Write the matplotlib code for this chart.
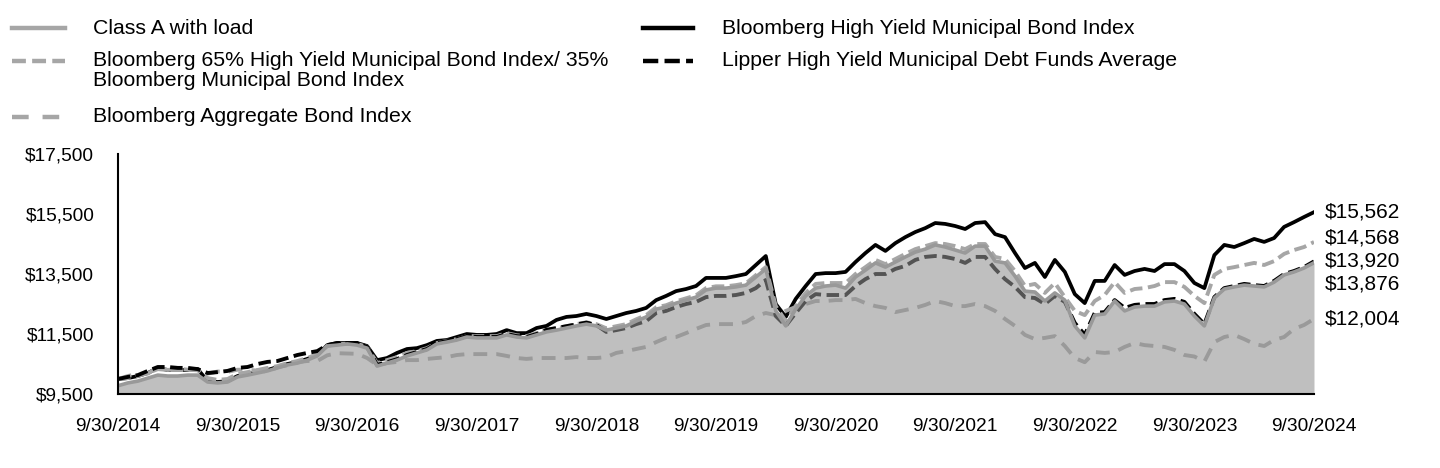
import numpy as np
import matplotlib.pyplot as plt
from matplotlib.lines import Line2D

plt.rcParams['font.family'] = ['Liberation Sans', 'DejaVu Sans']
plt.rcParams['lines.scale_dashes'] = False

# month-end values, 9/30/2014 .. 9/30/2024 (growth of $10,000)
tick_labels = ['9/30/2014', '9/30/2015', '9/30/2016', '9/30/2017', '9/30/2018', '9/30/2019',
               '9/30/2020', '9/30/2021', '9/30/2022', '9/30/2023', '9/30/2024']

class_a = [9775, 9870, 9930, 10030, 10130, 10100, 10100, 10130, 10130, 9900,
           9870, 9900, 10070, 10130, 10200, 10270, 10370, 10470, 10530, 10630,
           10770, 11100, 11130, 11170,
           11130, 11030, 10430, 10530, 10630, 10770, 10870, 10970, 11170, 11230,
           11300, 11400, 11370, 11370, 11370, 11470, 11400, 11370, 11470, 11570,
           11630, 11700, 11770, 11830,
           11770, 11630, 11700, 11770, 11930, 12070, 12330, 12400, 12530, 12630,
           12730, 12970, 13030, 13030, 13070, 13130, 13400, 13670, 12270, 11770,
           12330, 12770, 13030, 13100, 13130,
           13030, 13400, 13630, 13870, 13730, 13900, 14070, 14230, 14330, 14470,
           14400, 14300, 14200, 14430, 14430, 13930, 13870, 13430, 12930, 12900,
           12600, 12870, 12630, 11770, 11370,
           12130, 12170, 12600, 12270, 12400, 12430, 12430, 12570, 12600, 12500,
           12100, 11770, 12700, 13000, 13070, 13130, 13100, 13070, 13230, 13470,
           13570, 13700, 13876]

hy_muni = [10000, 10030, 10100, 10200, 10370, 10300, 10300, 10300, 10330,
           9930, 9900, 9930, 10100, 10170, 10230, 10300, 10400, 10500, 10570, 10670, 10800,
           11130, 11200, 11200, 11200,
           11100, 10630, 10700, 10870, 11000, 11030, 11130, 11270, 11300, 11400,
           11500, 11470, 11470, 11500, 11630, 11530, 11530, 11700, 11770, 11970,
           12070, 12100, 12170,
           12100, 12000, 12100, 12200, 12270, 12370, 12630, 12770, 12930, 13000,
           13100, 13370, 13370, 13370, 13430, 13500, 13800, 14100, 12500, 12070,
           12670, 13100, 13500,
           13530, 13530, 13570, 13900, 14200, 14470, 14270, 14530, 14730, 14900,
           15030, 15200, 15170, 15100, 15000, 15200, 15230, 14830, 14730, 14200,
           13700, 13870, 13400, 13970, 13570,
           12830, 12530, 13270, 13270, 13800, 13470, 13600, 13670, 13600, 13830,
           13830, 13600, 13200, 13030, 14130, 14470, 14400, 14530, 14670, 14570,
           14700, 15070, 15230, 15400, 15562]

blend_65_35 = [10000, 10030, 10100, 10200, 10330, 10300, 10300, 10300, 10300, 10030,
               9970, 10000, 10170, 10230, 10300, 10370, 10430, 10530, 10600, 10700,
               10830, 11100, 11170, 11170, 11170,
               11070, 10530, 10630, 10730, 10870, 10930, 11030, 11200, 11270, 11330,
               11430, 11430, 11430, 11430, 11530, 11460, 11430, 11530, 11630, 11690,
               11760, 11830, 11890,
               11830, 11690, 11760, 11830, 11990, 12130, 12390, 12460, 12590, 12690,
               12790, 13030, 13090, 13090, 13130, 13190, 13460, 13730, 12430, 11930,
               12430, 12870, 13170,
               13200, 13200, 13200, 13500, 13730, 13970, 13830, 14000, 14170, 14330,
               14430, 14530, 14500, 14430, 14330, 14500, 14500, 14070, 14000, 13600,
               13100, 13170, 12870, 13200, 12730,
               12270, 12130, 12600, 12800, 13230, 12870, 13000, 13030, 13100, 13230,
               13230, 13070, 12770, 12530, 13470, 13670, 13730, 13800, 13870, 13800,
               13930, 14170, 14300, 14400, 14568]

agg_bond = [10000, 10100, 10170, 10180, 10390, 10300, 10350, 10310, 10290, 10180,
            10250, 10240, 10310, 10310, 10280, 10250, 10390, 10460, 10560, 10600,
            10600, 10790, 10860, 10850, 10840,
            10700, 10470, 10530, 10570, 10630, 10630, 10670, 10700, 10730, 10800,
            10830, 10830, 10830, 10830, 10770, 10700, 10670, 10700, 10700, 10700,
            10700, 10730, 10700, 10700, 10730, 10870, 10930, 11000, 11070, 11230,
            11370, 11400, 11530, 11670, 11800, 11830, 11830, 11830, 11900, 12100,
            12200, 12130, 12270, 12400, 12500, 12600,
            12600, 12630, 12630, 12670, 12530, 12430, 12370, 12230, 12300, 12370,
            12470, 12600, 12530, 12430, 12430, 12500, 12430, 12270, 12000, 11770,
            11470, 11330, 11370, 11430, 11100, 10700, 10560,
            10900, 10870, 10900, 11070, 11200, 11130, 11100, 11070, 10970, 10800,
            10750, 10580, 11230, 11400, 11470, 11330, 11170, 11100, 11300, 11400,
            11670, 11800, 12004]

lipper = [10000, 10070, 10130, 10270, 10400, 10400, 10370, 10370, 10330, 10200,
          10230, 10270, 10370, 10400, 10500, 10570, 10600, 10700, 10800, 10870,
          10930, 11130, 11200, 11200, 11200,
          11070, 10470, 10560, 10660, 10800, 10900, 11000, 11200, 11260, 11330,
          11430, 11400, 11400, 11400, 11500, 11430, 11400, 11500, 11640, 11700,
          11760, 11820, 11880, 11800,
          11570, 11630, 11700, 11830, 11930, 12200, 12270, 12400, 12500, 12570,
          12730, 12770, 12770, 12800, 12870, 13030, 13300,
          12100, 11770, 12200, 12600, 12830, 12800, 12800, 12800, 13100, 13330,
          13500, 13500, 13670, 13770, 13970, 14070, 14100, 14070, 14000, 13870,
          14070, 14070, 13670, 13330, 13070, 12730,
          12700, 12500, 12770, 12570, 11870, 11470, 12200, 12230, 12630, 12370,
          12470, 12500, 12500, 12630, 12670, 12570, 12170, 11830, 12730, 13030,
          13100, 13170, 13130, 13100, 13270, 13500, 13600, 13730, 13920]

fig = plt.figure(figsize=(14.4, 4.68), dpi=100)
ax = fig.add_axes([0.0819, 0.1581, 0.8306, 0.5128])
x = np.arange(len(class_a))

ax.plot(x, hy_muni, color='black', lw=2.7, zorder=2)
ax.plot(x, blend_65_35, color='#a6a6a6', lw=2.8, dashes=(9, 4), zorder=2)
ax.plot(x, agg_bond, color='#a6a6a6', lw=2.8, dashes=(10, 6.5), zorder=2)
ax.plot(x, lipper, color='black', lw=2.8, dashes=(9, 4), zorder=2)
# fill is see-through so the lines below it show up darker
ax.fill_between(x, 9500, class_a, color='#929292', alpha=0.58, lw=0, zorder=3)
ax.plot(x, class_a, color='#999999', lw=2.6, zorder=4)

# end value labels
ends = [hy_muni[-1], blend_65_35[-1], lipper[-1], class_a[-1], agg_bond[-1]]
shifts = [0, 3, 0, -15, 0]
for v, dy in zip(ends, shifts):
    ax.annotate(f'${v:,.0f}', xy=(x[-1], v), xytext=(8, dy), textcoords='offset points',
                va='center', ha='left', fontsize=15, annotation_clip=False)

ax.set_xlim(0, 120)
ax.set_ylim(9500, 17500)
ax.set_xticks(np.arange(0, 121, 12))
ax.set_xticklabels(tick_labels)
yt = [9500, 11500, 13500, 15500, 17500]
ax.set_yticks(yt)
ax.set_yticklabels([f'${t:,}' for t in yt])
ax.tick_params(axis='both', length=0, labelsize=13.8)
ax.tick_params(axis='x', pad=17)
ax.tick_params(axis='y', pad=17)
for s in ['top', 'right']:
    ax.spines[s].set_visible(False)
for s in ['left', 'bottom']:
    ax.spines[s].set_linewidth(1.5)
    ax.spines[s].set_zorder(5)

# legend, drawn by hand so the two-line entry lines up like the original
W, H = 1440.0, 468.0
def handle(x0, x1, y, **kw):
    fig.add_artist(Line2D([x0 / W, x1 / W], [1 - y / H, 1 - y / H],
                          transform=fig.transFigure, **kw))

def label(xp, y, s):
    fig.text(xp / W, 1 - y / H, s, fontsize=15.3, va='center', ha='left')

handle(12, 65, 28, color='#a6a6a6', lw=3.2)
label(93, 28, 'Class A with load')
handle(12, 65, 61, color='#a6a6a6', lw=3.2, dashes=(10, 4.5))
label(93, 61, 'Bloomberg 65% High Yield Municipal Bond Index/ 35%')
label(93, 81, 'Bloomberg Municipal Bond Index')
handle(12, 65, 117, color='#a6a6a6', lw=3.2, dashes=(12, 10))
label(93, 117, 'Bloomberg Aggregate Bond Index')
handle(643, 693, 28, color='black', lw=3.2)
label(722, 28, 'Bloomberg High Yield Municipal Bond Index')
handle(643, 693, 61, color='black', lw=3.2, dashes=(11, 4.5))
label(722, 61, 'Lipper High Yield Municipal Debt Funds Average')

fig.savefig('out.png', dpi=100)
